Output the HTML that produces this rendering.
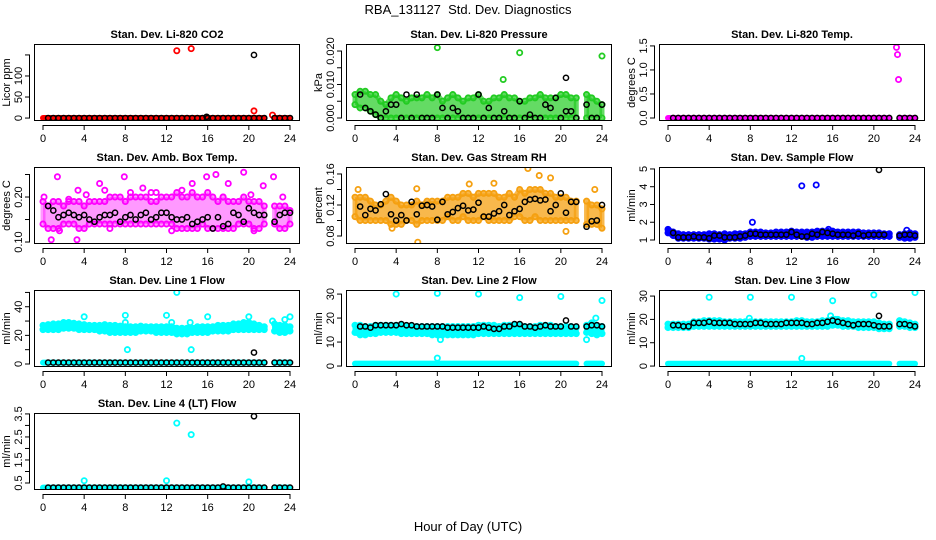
<!DOCTYPE html>
<html><head><meta charset="utf-8"><style>
html,body{margin:0;padding:0;background:#fff;}
svg{display:block;font-family:"Liberation Sans",sans-serif;}
</style></head><body>
<svg id="chart" width="936" height="540" viewBox="0 0 936 540">
<text x="468" y="14" text-anchor="middle" font-size="13" xml:space="preserve">RBA_131127&#160; Std. Dev. Diagnostics</text>
<text x="468" y="531" text-anchor="middle" font-size="13">Hour of Day (UTC)</text>
</svg>
<script>
const hours=[0,0.5,1,1.5,2,2.5,3,3.5,4,4.5,5,5.5,6,6.5,7,7.5,8,8.5,9,9.5,10,10.5,11,11.5,12,12.5,13,13.5,14,14.5,15,15.5,16,16.5,17,17.5,18,18.5,19,19.5,20,20.5,21,21.5,22,22.5,23,23.5,24];
const xTicks=[0,4,8,12,16,20,24];
const zeroMid=[0,0,0,0,0,0,0,0,0,0,0,0,0,0,0,0,0,0,0,0,0,0,0,0,0,0,0,0,0,0,0,0,0,0,0,0,0,0,0,0,0,0,0,0,null,0,0,0,0];
const zeroBlk=[null,0,0,0,0,0,0,0,0,0,0,0,0,0,0,0,0,0,0,0,0,0,0,0,0,0,0,0,0,0,0,0,0,0,0,0,0,0,0,0,0,0,0,0,null,0,0,0,0];
const oneMid=[1,1,1,1,1,1,1,1,1,1,1,1,1,1,1,1,1,1,1,1,1,1,1,1,1,1,1,1,1,1,1,1,1,1,1,1,1,1,1,1,1,1,1,1,null,1,1,1,1];
const oneBlk=[null,1,1,1,1,1,1,1,1,1,1,1,1,1,1,1,1,1,1,1,1,1,1,1,1,1,1,1,1,1,1,1,1,1,1,1,1,1,1,1,1,1,1,1,null,1,1,1,1];
const l4Mid=[0.3,0.3,0.3,0.3,0.3,0.3,0.3,0.3,0.3,0.3,0.3,0.3,0.3,0.3,0.3,0.3,0.3,0.3,0.3,0.3,0.3,0.3,0.3,0.3,0.3,0.3,0.3,0.3,0.3,0.3,0.3,0.3,0.3,0.3,0.3,0.3,0.3,0.3,0.3,0.3,0.3,0.3,0.3,0.3,null,0.3,0.3,0.3,0.3];
const l4Blk=[null,0.3,0.3,0.3,0.3,0.3,0.3,0.3,0.3,0.3,0.3,0.3,0.3,0.3,0.3,0.3,0.3,0.3,0.3,0.3,0.3,0.3,0.3,0.3,0.3,0.3,0.3,0.3,0.3,0.3,0.3,0.3,0.3,0.3,0.3,0.35,0.3,0.3,0.3,0.3,0.3,0.3,0.3,0.3,null,0.3,0.3,0.3,0.3];

const presHi=[0.007,0.008,0.008,0.007,0.007,0.005,0.004,0.006,0.007,0.006,0.005,0.006,0.006,0.006,0.007,0.006,0.007,0.005,0.006,0.007,0.006,0.005,0.006,0.006,0.007,0.005,0.005,0.006,0.006,0.007,0.006,0.006,0.005,0.005,0.006,0.006,0.007,0.006,0.006,0.006,0.007,0.007,0.006,0.006,null,0.007,0.006,0.005,0.004];
const presLo=[0.004,0.003,0.003,0.002,0.001,0,0,0,0,0,0,0,0,0,0,0,0,0,0,0,0,0,0,0,0,0,0,0,0,0,0,0,0,0,0,0,0,0,0,0,0,0,0,0,null,0,0,0,0];
const presBlk=[null,0.007,0.003,0.002,0.001,0,0.002,0.004,0.004,0,0.007,0,0.007,0,0,0,0.007,0.003,0,0.003,0.002,0,0,0,0.007,0,0.003,0,0,0.002,0,0,0.005,0,0.001,0,0,0.004,0.003,0.006,0,0.002,0.002,0,null,0.004,0,0,0.004];
const ambHi=[0.19,0.18,0.19,0.19,0.18,0.19,0.19,0.19,0.18,0.19,0.19,0.19,0.19,0.2,0.2,0.2,0.19,0.2,0.2,0.2,0.2,0.19,0.19,0.2,0.2,0.2,0.21,0.2,0.2,0.21,0.2,0.2,0.21,0.2,0.19,0.2,0.19,0.19,0.19,0.2,0.19,0.19,0.19,0.18,null,0.18,0.18,0.18,0.17];
const ambLo=[0.14,0.13,0.13,0.13,0.14,0.14,0.14,0.13,0.13,0.14,0.14,0.14,0.14,0.14,0.14,0.14,0.14,0.14,0.14,0.14,0.14,0.14,0.14,0.14,0.14,0.14,0.13,0.13,0.13,0.13,0.13,0.14,0.13,0.13,0.13,0.13,0.13,0.13,0.14,0.14,0.14,0.13,0.13,0.14,null,0.14,0.13,0.13,0.14];
const ambBlk=[null,0.18,0.17,0.155,0.16,0.165,0.16,0.155,0.16,0.15,0.145,0.155,0.16,0.16,0.165,0.145,0.155,0.16,0.15,0.16,0.165,0.15,0.155,0.165,0.165,0.155,0.15,0.15,0.155,0.14,0.145,0.15,0.155,0.13,0.155,0.135,0.14,0.165,0.16,0.145,0.175,0.165,0.16,0.16,null,0.145,0.16,0.165,0.165];
const rhHi=[0.13,0.13,0.13,0.125,0.12,0.12,0.125,0.13,0.125,0.12,0.12,0.12,0.125,0.12,0.125,0.125,0.125,0.125,0.13,0.13,0.13,0.135,0.135,0.13,0.135,0.135,0.135,0.135,0.13,0.13,0.135,0.13,0.14,0.135,0.14,0.14,0.14,0.135,0.135,0.13,0.13,0.13,0.125,0.125,null,0.125,0.12,0.12,0.115];
const rhLo=[0.105,0.1,0.1,0.1,0.1,0.1,0.1,0.095,0.095,0.095,0.1,0.1,0.095,0.1,0.1,0.1,0.1,0.1,0.105,0.1,0.1,0.105,0.1,0.1,0.1,0.105,0.1,0.1,0.1,0.1,0.1,0.105,0.105,0.1,0.1,0.105,0.1,0.1,0.1,0.1,0.1,0.1,0.1,0.1,null,0.095,0.095,0.095,0.09];
const rhBlk=[null,0.118,0.107,0.115,0.113,0.121,0.134,0.108,0.1,0.107,0.1,0.124,0.108,0.119,0.12,0.118,0.101,0.124,0.108,0.111,0.116,0.119,0.113,0.114,0.123,0.105,0.105,0.109,0.112,0.12,0.107,0.112,0.115,0.124,0.127,0.128,0.126,0.127,0.112,0.12,0.135,0.11,0.124,0.124,null,0.092,0.099,0.1,0.12];
const sfHi=[1.6,1.45,1.35,1.3,1.3,1.3,1.3,1.3,1.35,1.35,1.3,1.35,1.3,1.35,1.35,1.35,1.45,1.45,1.45,1.4,1.4,1.45,1.45,1.45,1.5,1.45,1.45,1.45,1.45,1.5,1.5,1.5,1.5,1.45,1.45,1.45,1.45,1.45,1.4,1.4,1.4,1.4,1.35,1.35,null,1.3,1.35,1.4,1.35];
const sfLo=[1.4,1.25,1.1,1.1,1.1,1.1,1.1,1.1,1.05,1.05,1.05,1.0,1.1,1.1,1.1,1.15,1.2,1.2,1.2,1.2,1.2,1.2,1.2,1.2,1.2,1.2,1.2,1.15,1.15,1.2,1.2,1.2,1.2,1.2,1.2,1.2,1.2,1.2,1.2,1.2,1.2,1.2,1.2,1.2,null,1.15,1.1,1.1,1.15];
const sfBlk=[null,1.4,1.15,1.15,1.15,1.2,1.15,1.15,1.1,1.25,1.25,1.15,1.15,1.15,1.2,1.25,1.35,1.35,1.3,1.3,1.3,1.3,1.3,1.3,1.45,1.3,1.2,1.2,1.35,1.3,1.45,1.4,1.35,1.3,1.3,1.3,1.25,1.35,1.25,1.3,1.3,1.3,1.3,null,null,1.25,1.3,1.3,1.25];
const l1Hi=[27,27.5,28,28,29,29,28.5,28,27.5,27,27,27,27.5,27,27,26.5,26,26,26,26.5,26,26,26,26,26,26,25,25,25,25,26,26,26,26,27,27,27,28,28,29,29,28,27,26,null,28,27,27,26];
const l1Lo=[24,24,24,24,25,25,25,24,24,24,24,23,23,22,22,22,22,22,22,23,23,23,22,22,22,22,21,21,21,22,22,22,22,23,23,23,23,24,24,24,24,24,24,24,null,23,22,22,23];
const l2Hi=[17,17,16.5,16.5,17,17,17,17,17,17,16.5,16.5,16.5,16.5,16.5,16.5,16.5,16.5,16.5,16.5,16.5,16.5,16.5,16.5,17,17,17,17,16.5,17,17,17,17,16.5,16.5,16.5,17,17,17,16.5,16.5,16.5,16.5,16,null,17,18,17,16.5];
const l2Lo=[14,13,13,13.5,13.5,14,14,14,14,13.5,13.5,13.5,13.5,13.5,13.5,13,13,13,13,13,13,13,13,13,13.5,13.5,13.5,13.5,13.5,13.5,13.5,13.5,13.5,13.5,13.5,13.5,13.5,13.5,13.5,13.5,13.5,13.5,13.5,13.5,null,14,13.5,13,13.5];
const l2Blk=[null,16.5,16.5,16,17,17,17,17,17,17.5,17,17,16.5,16.5,16.5,16.5,16.5,16.5,16,16,16,16,16,16,16,16.5,16,15.5,15.5,16.5,16.5,17.5,17.5,16.5,16.5,16,16.5,17,16.5,16.5,16.5,19,16.5,16.5,null,16.5,17,17,16.5];
const l3Hi=[18,18,18,18,18,19,19,19.5,19.5,19.5,19.5,19,19,19,19,19,19,19,19,19,19,19,19,19,19,19.5,19.5,19,19,19,19.5,19.5,20,20,19.5,19.5,19,19,19,19,19,18.5,18,18,null,19.5,19,18.5,18];
const l3Lo=[16.5,16.5,16.5,16.5,16.5,17,17,17,17,17,17,17,17,17,17,17,17,17,17,17,17,17,17,17,17,17,17,17,17,17,17,17,17.5,17.5,17,17,17,16.5,16.5,16.5,16.5,16,16,16,null,17,17,16.5,16.5];
const l3Blk=[null,17.5,17.5,17,17,18.5,18.5,18.5,19,18.5,18.5,18.5,18.5,18,18,18,18,18.5,18.5,18,18,18,18,18.5,18.5,18.5,18.5,18,18,18.5,18.5,19,19.5,19,18.5,18,17.5,18,18,18,17.5,17,17,17,null,18,18,17.5,17];

const co2OutX=[13,14.4,20.5,22.3], co2OutY=[160,165,17,7], co2BOutX=[20.5,15.9], co2BOutY=[150,3];
const presOutX=[8,14.4,16,24], presOutY=[0.021,0.0115,0.0195,0.0185], presBOutX=[20.5], presBOutY=[0.012];
const tmpOutX=[22.2,22.3,22.4], tmpOutY=[1.47,1.32,0.8];
const ambOutX=[1.4,3.3,0.8,3.4,6.5,7.9,12.5,14.5,15.9,16.8,19.5,21.4,22.4,20.5,5.5,1.6,10.5,18,0.1,9.7,23.3,2.5,4.2,11,13.5,17.5,20.2,8.5,6], ambOutY=[0.245,0.105,0.105,0.215,0.13,0.245,0.125,0.23,0.245,0.25,0.255,0.225,0.245,0.125,0.23,0.125,0.21,0.23,0.2,0.22,0.2,0.195,0.205,0.21,0.215,0.2,0.205,0.21,0.215];
const rhOutX=[6.1,16.8,17.9,0.3,20.5,3.6,6,11.1,13.5,19,23.3], rhOutY=[0.072,0.167,0.158,0.14,0.086,0.09,0.141,0.147,0.148,0.155,0.14];
const sfOutX=[13,14.4,8.2,15.6,23.2], sfOutY=[4.05,4.1,2.0,1.6,1.55], sfBOutX=[20.5], sfBOutY=[4.95];
const l1OutX=[13,4,8,12,16,20,24,8.2,14.4,23.5,22.3,8,12.5,14.3], l1OutY=[50,33,34,34,33,33,33,10,10,31,30,29,29,29], l1BOutX=[20.5], l1BOutY=[8];
const l2OutX=[4,8,12,16,20,24,8.3,22.5,8,23.4,23], l2OutY=[30,30.3,30,28.5,29,27.3,11,11,3.3,20,14];
const l3OutX=[4,8,12,16,20,24,13,15.8,7.9,16.3], l3OutY=[29.5,29.5,29.5,28,30.5,31.5,3.3,21.5,20.5,20], l3BOutX=[20.5], l3BOutY=[21.5];
const l4OutX=[4,12,13,14.4,20], l4OutY=[0.6,0.6,3.1,2.6,0.55], l4BOutX=[20.5], l4BOutY=[3.4];

const NS='http://www.w3.org/2000/svg';
const svg=document.getElementById('chart');
function mk(tag,attrs,parent){const e=document.createElementNS(NS,tag);for(const k in attrs)e.setAttribute(k,attrs[k]);(parent||svg).appendChild(e);return e;}

const panels=[
 {key:'co2',col:0,row:0,title:'Stan. Dev. Li-820 CO2',ylab:'Licor ppm',dom:[-7,176],ticks:[0,50,100,150],labels:['0','50','100',''],color:'#ff0000',mid:zeroMid,blk:zeroBlk,ox:co2OutX,oy:co2OutY,bx:co2BOutX,by:co2BOutY},
 {key:'pressure',col:1,row:0,title:'Stan. Dev. Li-820 Pressure',ylab:'kPa',dom:[-0.0009,0.0221],ticks:[0,0.005,0.01,0.015,0.02],labels:['0.000','','0.010','','0.020'],color:'#22cc22',fo:0.7,hi:presHi,lo:presLo,blk:presBlk,ox:presOutX,oy:presOutY,bx:presBOutX,by:presBOutY},
 {key:'temp',col:2,row:0,title:'Stan. Dev. Li-820 Temp.',ylab:'degrees C',dom:[-0.0625,1.54],ticks:[0,0.5,1,1.5],labels:['0.0','0.5','1.0','1.5'],color:'#ff00ff',mid:zeroMid,blk:zeroBlk,ox:tmpOutX,oy:tmpOutY,bx:[],by:[]},
 {key:'amb-box',col:0,row:1,title:'Stan. Dev. Amb. Box Temp.',ylab:'degrees C',dom:[0.0956,0.2667],ticks:[0.1,0.15,0.2,0.25],labels:['0.10','','0.20',''],color:'#ff00ff',fo:0.4,hi:ambHi,lo:ambLo,blk:ambBlk,ox:ambOutX,oy:ambOutY,bx:[],by:[]},
 {key:'gas-rh',col:1,row:1,title:'Stan. Dev. Gas Stream RH',ylab:'percent',dom:[0.0697,0.169],ticks:[0.08,0.1,0.12,0.14,0.16],labels:['0.08','','0.12','','0.16'],color:'#f5a010',fo:0.75,hi:rhHi,lo:rhLo,blk:rhBlk,ox:rhOutX,oy:rhOutY,bx:[],by:[]},
 {key:'sample-flow',col:2,row:1,title:'Stan. Dev. Sample Flow',ylab:'ml/min',dom:[0.775,5.11],ticks:[1,2,3,4,5],labels:['1','2','3','4','5'],color:'#0000ff',hi:sfHi,lo:sfLo,blk:sfBlk,ox:sfOutX,oy:sfOutY,bx:sfBOutX,by:sfBOutY},
 {key:'line1',col:0,row:2,title:'Stan. Dev. Line 1 Flow',ylab:'ml/min',dom:[-2.1,51.7],ticks:[0,10,20,30,40,50],labels:['0','','20','','40',''],color:'#00ffff',hi:l1Hi,lo:l1Lo,mid:oneMid,blk:oneBlk,ox:l1OutX,oy:l1OutY,bx:l1BOutX,by:l1BOutY},
 {key:'line2',col:1,row:2,title:'Stan. Dev. Line 2 Flow',ylab:'ml/min',dom:[-0.4,31.7],ticks:[0,10,20,30],labels:['0','10','20','30'],color:'#00ffff',hi:l2Hi,lo:l2Lo,mid:oneMid,blk:l2Blk,ox:l2OutX,oy:l2OutY,bx:[],by:[]},
 {key:'line3',col:2,row:2,title:'Stan. Dev. Line 3 Flow',ylab:'ml/min',dom:[-0.4,32.6],ticks:[0,10,20,30],labels:['0','10','20','30'],color:'#00ffff',hi:l3Hi,lo:l3Lo,mid:oneMid,blk:l3Blk,ox:l3OutX,oy:l3OutY,bx:l3BOutX,by:l3BOutY},
 {key:'line4',col:0,row:3,title:'Stan. Dev. Line 4 (LT) Flow',ylab:'ml/min',dom:[0.196,3.54],ticks:[0.5,1,1.5,2,2.5,3,3.5],labels:['0.5','','1.5','','2.5','','3.5'],color:'#00ffff',mid:l4Mid,blk:l4Blk,ox:l4OutX,oy:l4OutY,bx:l4BOutX,by:l4BOutY}
];
const colOff=[0,312,625], rowTop=[44,167,290,413], BH=77;

panels.forEach(p=>{
  const L=34+colOff[p.col], R=300+colOff[p.col], T=rowTop[p.row], B=T+BH;
  const xs=h=>L+9+(h)*(247/24);
  const ys=v=>B-(v-p.dom[0])/(p.dom[1]-p.dom[0])*BH;
  const fo=p.fo||1;
  const g=mk('g',{});
  
  
  const clipId='clip-'+p.key;
  const cp=mk('clipPath',{id:clipId},g);mk('rect',{x:L,y:T,width:R-L,height:BH},cp);
  const plot=mk('g',{'clip-path':'url(#'+clipId+')'},g);
  if(p.hi){
    let seg=[];
    const flush=()=>{if(seg.length>1){let pts=seg.map(i=>xs(hours[i])+','+ys(p.hi[i]));pts=pts.concat(seg.slice().reverse().map(i=>xs(hours[i])+','+ys(p.lo[i])));
      const poly=mk('polygon',{points:pts.join(' '),fill:p.color,'fill-opacity':fo,stroke:p.color,'stroke-opacity':fo,'stroke-width':5,'stroke-linejoin':'round'},plot);
      }seg=[];};
    hours.forEach((h,i)=>{if(p.hi[i]==null)flush();else seg.push(i);});flush();
    hours.forEach((h,i)=>{if(p.hi[i]==null)return;
      [p.hi[i],p.lo[i]].forEach(v=>{const c=mk('circle',{cx:xs(h),cy:ys(v),r:2.6,fill:'none',stroke:p.color,'stroke-width':1.8},plot);
      });});
  }
  if(p.mid){
    let seg=[];
    const flush=()=>{if(seg.length>1){const pl=mk('polyline',{points:seg.map(i=>xs(hours[i])+','+ys(p.mid[i])).join(' '),fill:'none',stroke:p.color,'stroke-width':6,'stroke-linecap':'round'},plot);
      }seg=[];};
    hours.forEach((h,i)=>{if(p.mid[i]==null)flush();else seg.push(i);});flush();
  }
  p.ox.forEach((x,i)=>{const c=mk('circle',{cx:xs(x),cy:ys(p.oy[i]),r:2.6,fill:'none',stroke:p.color,'stroke-width':1.8},plot);
    });
  hours.forEach((h,i)=>{const v=p.blk[i];if(v==null)return;const c=mk('circle',{cx:xs(h),cy:ys(v),r:2.6,fill:'none',stroke:'#000','stroke-width':1.5},plot);
    });
  p.bx.forEach((x,i)=>{const c=mk('circle',{cx:xs(x),cy:ys(p.by[i]),r:2.6,fill:'none',stroke:'#000','stroke-width':1.5},plot);
    });
  const fr=mk('rect',{x:L+0.5,y:T+0.5,width:R-L-1,height:BH-1,fill:'none',stroke:'#000','stroke-width':1},g);
  
  mk('line',{x1:xs(0),x2:xs(24),y1:B+4.5,y2:B+4.5,stroke:'#000'},g);
  xTicks.forEach(t=>{mk('line',{x1:xs(t),x2:xs(t),y1:B+4,y2:B+9,stroke:'#000'},g);
    const tx=mk('text',{x:xs(t),y:B+21,'text-anchor':'middle','font-size':11},g);tx.textContent=t;
    });
  mk('line',{x1:L-4.5,x2:L-4.5,y1:ys(p.ticks[0]),y2:ys(p.ticks[p.ticks.length-1]),stroke:'#000'},g);
  p.ticks.forEach((t,i)=>{const y=ys(t);mk('line',{x1:L-9,x2:L-4,y1:y,y2:y,stroke:'#000'},g);
    if(p.labels[i]){const tx=mk('text',{x:L-12,y:y,'text-anchor':'middle','font-size':11,transform:'rotate(-90 '+(L-12)+' '+y+')'},g);tx.textContent=p.labels[i];
    }});
  const yl=mk('text',{x:L-24,y:(T+B)/2,'text-anchor':'middle','font-size':11,transform:'rotate(-90 '+(L-24)+' '+((T+B)/2)+')'},g);yl.textContent=p.ylab;
  
  const ti=mk('text',{x:(L+R)/2,y:T-6,'text-anchor':'middle','font-size':11,'font-weight':'bold'},g);ti.textContent=p.title;
  
});
</script>
</body></html>
